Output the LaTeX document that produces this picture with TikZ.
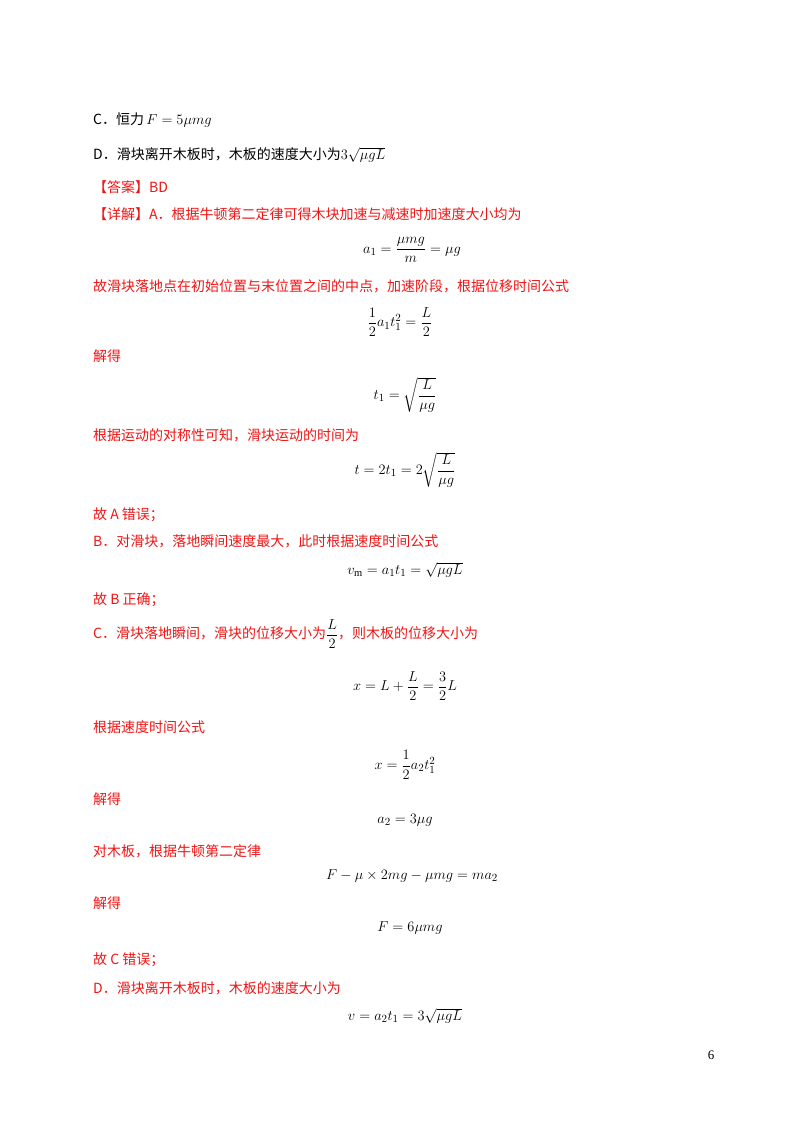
\documentclass[tikz,border=0pt]{standalone}
\usepackage{fontspec}
\usepackage{amsmath}
\newfontfamily\cjk{Noto Sans CJK SC}
\setmainfont{Liberation Serif}
\definecolor{ansred}{RGB}{240,20,20}
\begin{document}
\begin{tikzpicture}[x=1pt,y=-1pt,
  txt/.style={anchor=west,inner sep=0pt,font=\cjk\fontsize{14}{16}\selectfont},
  red/.style={txt,text=ansred},
  eq/.style={anchor=center,inner sep=0pt,font=\fontsize{15}{17}\selectfont}]
\useasboundingbox (0,0) rectangle (800,1132);
\node[txt] (c) at (93,120) {C．恒力\,{\fontsize{15}{17}\selectfont$F=5\mu mg$}};
\node[txt] (d) at (93,155) {D．滑块离开木板时，木板的速度大小为{\fontsize{15}{17}\selectfont$3\sqrt{\mu gL}$}};
\node[red] (ans) at (93,187) {【答案】BD};
\node[red] (xj) at (93,214) {【详解】A．根据牛顿第二定律可得木块加速与减速时加速度大小均为};
\node[eq] (e1) at (412,250) {$a_1=\dfrac{\mu mg}{m}=\mu g$};
\node[red] (t2) at (93,286) {故滑块落地点在初始位置与末位置之间的中点，加速阶段，根据位移时间公式};
\node[eq] (e2) at (400,322) {$\dfrac12 a_1t_1^2=\dfrac L2$};
\node[red] (t3) at (93,356) {解得};
\node[eq] (e3) at (405,395) {$t_1=\sqrt{\dfrac{L}{\mu g}}$};
\node[red] (t4) at (93,435) {根据运动的对称性可知，滑块运动的时间为};
\node[eq] (e4) at (405,470) {$t=2t_1=2\sqrt{\dfrac{L}{\mu g}}$};
\node[red] (t5) at (93,515) {故 A 错误；};
\node[red] (t6) at (93,541) {B．对滑块，落地瞬间速度最大，此时根据速度时间公式};
\node[eq] (e5) at (405,570) {$v_{\mathrm m}=a_1t_1=\sqrt{\mu gL}$};
\node[red] (t7) at (93,600) {故 B 正确；};
\node[red] (t8) at (93,634) {C．滑块落地瞬间，滑块的位移大小为{\color{black}\fontsize{15}{17}\selectfont$\dfrac L2$}，则木板的位移大小为};
\node[eq] (e6) at (405,686) {$x=L+\dfrac L2=\dfrac32L$};
\node[red] (t9) at (93,727) {根据速度时间公式};
\node[eq] (e7) at (405,765) {$x=\dfrac12a_2t_1^2$};
\node[red] (t10) at (93,799) {解得};
\node[eq] (e8) at (405,820) {$a_2=3\mu g$};
\node[red] (t11) at (93,851) {对木板，根据牛顿第二定律};
\node[eq] (e9) at (412,876) {$F-\mu\times2mg-\mu mg=ma_2$};
\node[red] (t12) at (93,903) {解得};
\node[eq] (e10) at (410,928) {$F=6\mu mg$};
\node[red] (t13) at (93,960) {故 C 错误；};
\node[red] (t14) at (93,988) {D．滑块离开木板时，木板的速度大小为};
\node[eq] (e11) at (405,1016) {$v=a_2t_1=3\sqrt{\mu gL}$};
\node[inner sep=0pt,font=\fontsize{13}{15}\selectfont] (pg) at (711,1055) {6};
\end{tikzpicture}
\end{document}
